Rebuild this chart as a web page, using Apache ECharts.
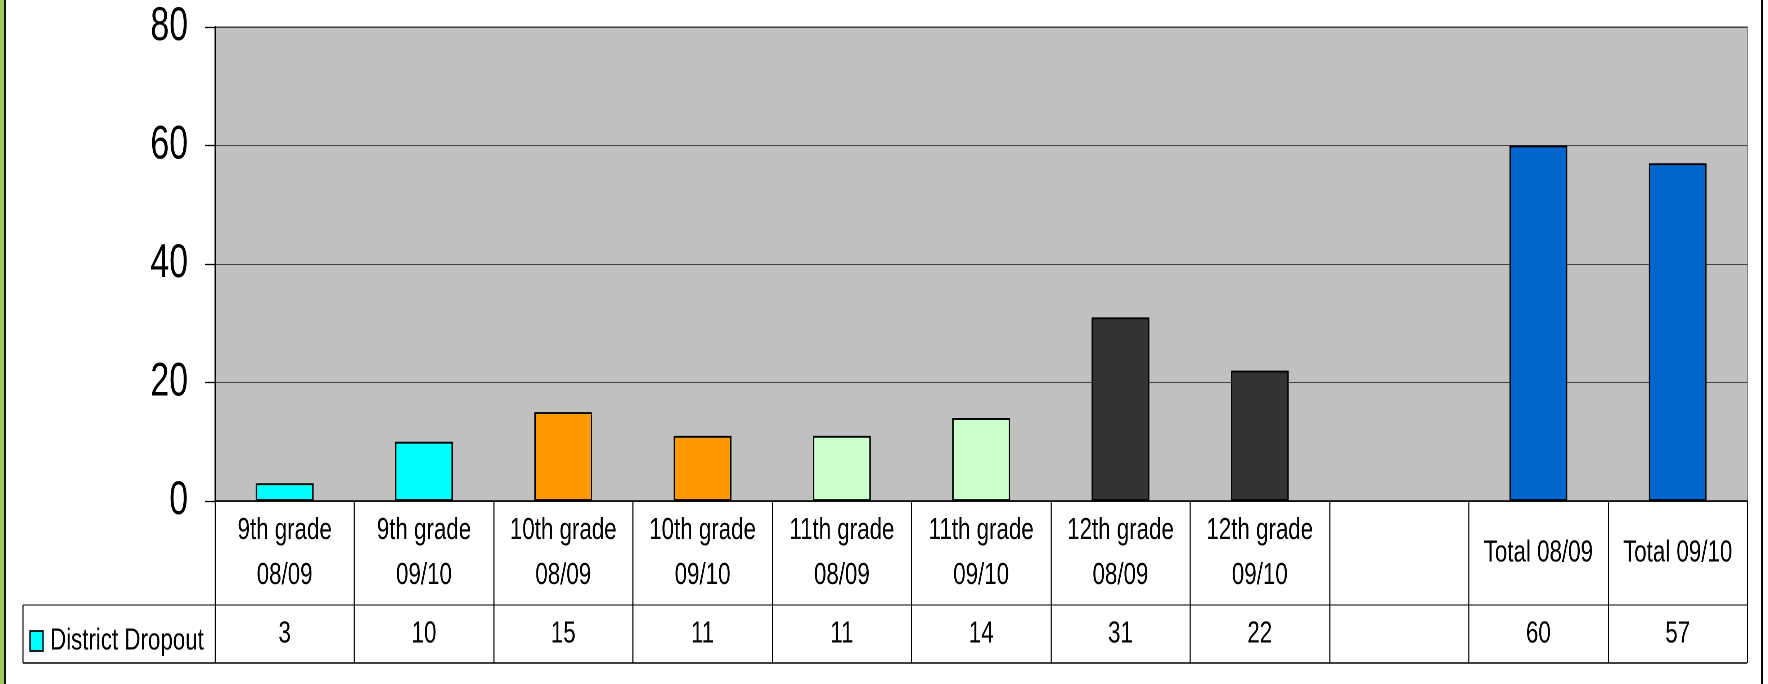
<!DOCTYPE html>
<html><head><meta charset="utf-8">
<script src="https://cdn.jsdelivr.net/npm/echarts@6/dist/echarts.min.js"></script>
<style>html,body{margin:0;padding:0;background:#fff;overflow:hidden}#wrap{width:1768px;height:684px;overflow:hidden;position:relative}#c{position:absolute;left:0;top:0;transform-origin:0 0}</style>
</head><body><div id="wrap"><div id="c"></div></div>
<script>
const categories = ['9th grade\n08/09','9th grade\n09/10','10th grade\n08/09','10th grade\n09/10','11th grade\n08/09','11th grade\n09/10','12th grade\n08/09','12th grade\n09/10','','Total 08/09','Total 09/10'];
const dropoutValues = [3, 10, 15, 11, 11, 14, 31, 22, null, 60, 57];
const yTicks = { min: 0, max: 80, interval: 20 };
const seriesName = 'District Dropout';
const barPalette = ['#00FFFF','#00FFFF','#FF9900','#FF9900','#CCFFCC','#CCFFCC','#333333','#333333','#000000','#0066CC','#0066CC'];

// Render in a horizontally widened space and compress with CSS so the text looks like a narrow face.
const SX = 0.72;
const W = 1768, H = 684;
const CW = W / SX;
const el = document.getElementById('c');
el.style.width = CW + 'px';
el.style.height = H + 'px';
el.style.transform = 'scale(' + SX + ',1)';

const FONT = "'Liberation Sans',Arial,sans-serif";
const chart = echarts.init(el, null, { renderer: 'canvas', devicePixelRatio: 2 });
const X = v => v / SX;
const gridL = 215, gridR = 21, gridT = 27, gridB = 183;
const axisY = H - gridB;
const row1B = 605, row2B = 663;
const plotRight = W - gridR;
const TF = 31;

chart.setOption({
  animation: false,
  backgroundColor: '#fff',
  grid: { left: X(gridL), right: X(gridR), top: gridT, bottom: gridB, show: true,
          backgroundColor: '#C0C0C0', borderColor: '#808080', borderWidth: 1.6 },
  xAxis: [{
    type: 'category', data: categories, position: 'bottom',
    axisLine: { show: true, lineStyle: { color: '#000', width: 1.5 } },
    axisTick: { show: true, alignWithLabel: false, length: row2B - axisY, lineStyle: { color: '#000', width: 1.5 } },
    axisLabel: { interval: 0, margin: 52, verticalAlign: 'middle', fontFamily: FONT, fontSize: TF, lineHeight: 45, color: '#000' }
  }, {
    type: 'category', data: dropoutValues.map(v => v == null ? '' : String(v)), position: 'bottom',
    axisLine: { show: false }, axisTick: { show: false },
    axisLabel: { interval: 0, margin: 133, verticalAlign: 'middle', fontFamily: FONT, fontSize: TF, color: '#000' }
  }],
  yAxis: {
    type: 'value', min: yTicks.min, max: yTicks.max, interval: yTicks.interval,
    axisLine: { show: true, lineStyle: { color: '#000', width: 2 } },
    axisTick: { show: true, length: X(10), lineStyle: { color: '#000', width: 1.3 } },
    axisLabel: { fontFamily: FONT, fontSize: 47, color: '#000', margin: X(27) },
    splitLine: { show: true, lineStyle: { color: '#404040', width: 1 } }
  },
  series: [{
    name: seriesName, type: 'bar', xAxisIndex: 0, barWidth: '41.5%',
    data: dropoutValues.map((v, i) => ({ value: v, itemStyle: { color: barPalette[i] } })),
    itemStyle: { borderColor: '#000', borderWidth: 1.9 }
  }],
  graphic: [
    { type: 'rect', shape: { x: 0, y: 0, width: X(4), height: H }, style: { fill: '#9DCB5B' }, silent: true },
    { type: 'line', shape: { x1: X(5), y1: 0, x2: X(5), y2: H }, style: { stroke: '#000', lineWidth: 2 }, silent: true },
    { type: 'line', shape: { x1: X(1762), y1: 0, x2: X(1762), y2: H }, style: { stroke: '#000', lineWidth: 2.6 }, silent: true },
    { type: 'line', shape: { x1: X(23), y1: row1B, x2: X(plotRight), y2: row1B }, style: { stroke: '#000', lineWidth: 1 }, silent: true },
    { type: 'line', shape: { x1: X(23), y1: row2B, x2: X(plotRight), y2: row2B }, style: { stroke: '#000', lineWidth: 1.5 }, silent: true },
    { type: 'line', shape: { x1: X(23), y1: row1B, x2: X(23), y2: row2B }, style: { stroke: '#000', lineWidth: 1.5 }, silent: true },
    { type: 'rect', shape: { x: X(30), y: 631, width: X(13), height: 20 }, style: { fill: '#00FFFF', stroke: '#000', lineWidth: 1.8 }, silent: true },
    { type: 'text', x: X(50), y: 641, style: { text: seriesName, fontFamily: FONT, fontSize: TF, fill: '#000', verticalAlign: 'middle', align: 'left' }, silent: true }
  ]
});
</script></body></html>
